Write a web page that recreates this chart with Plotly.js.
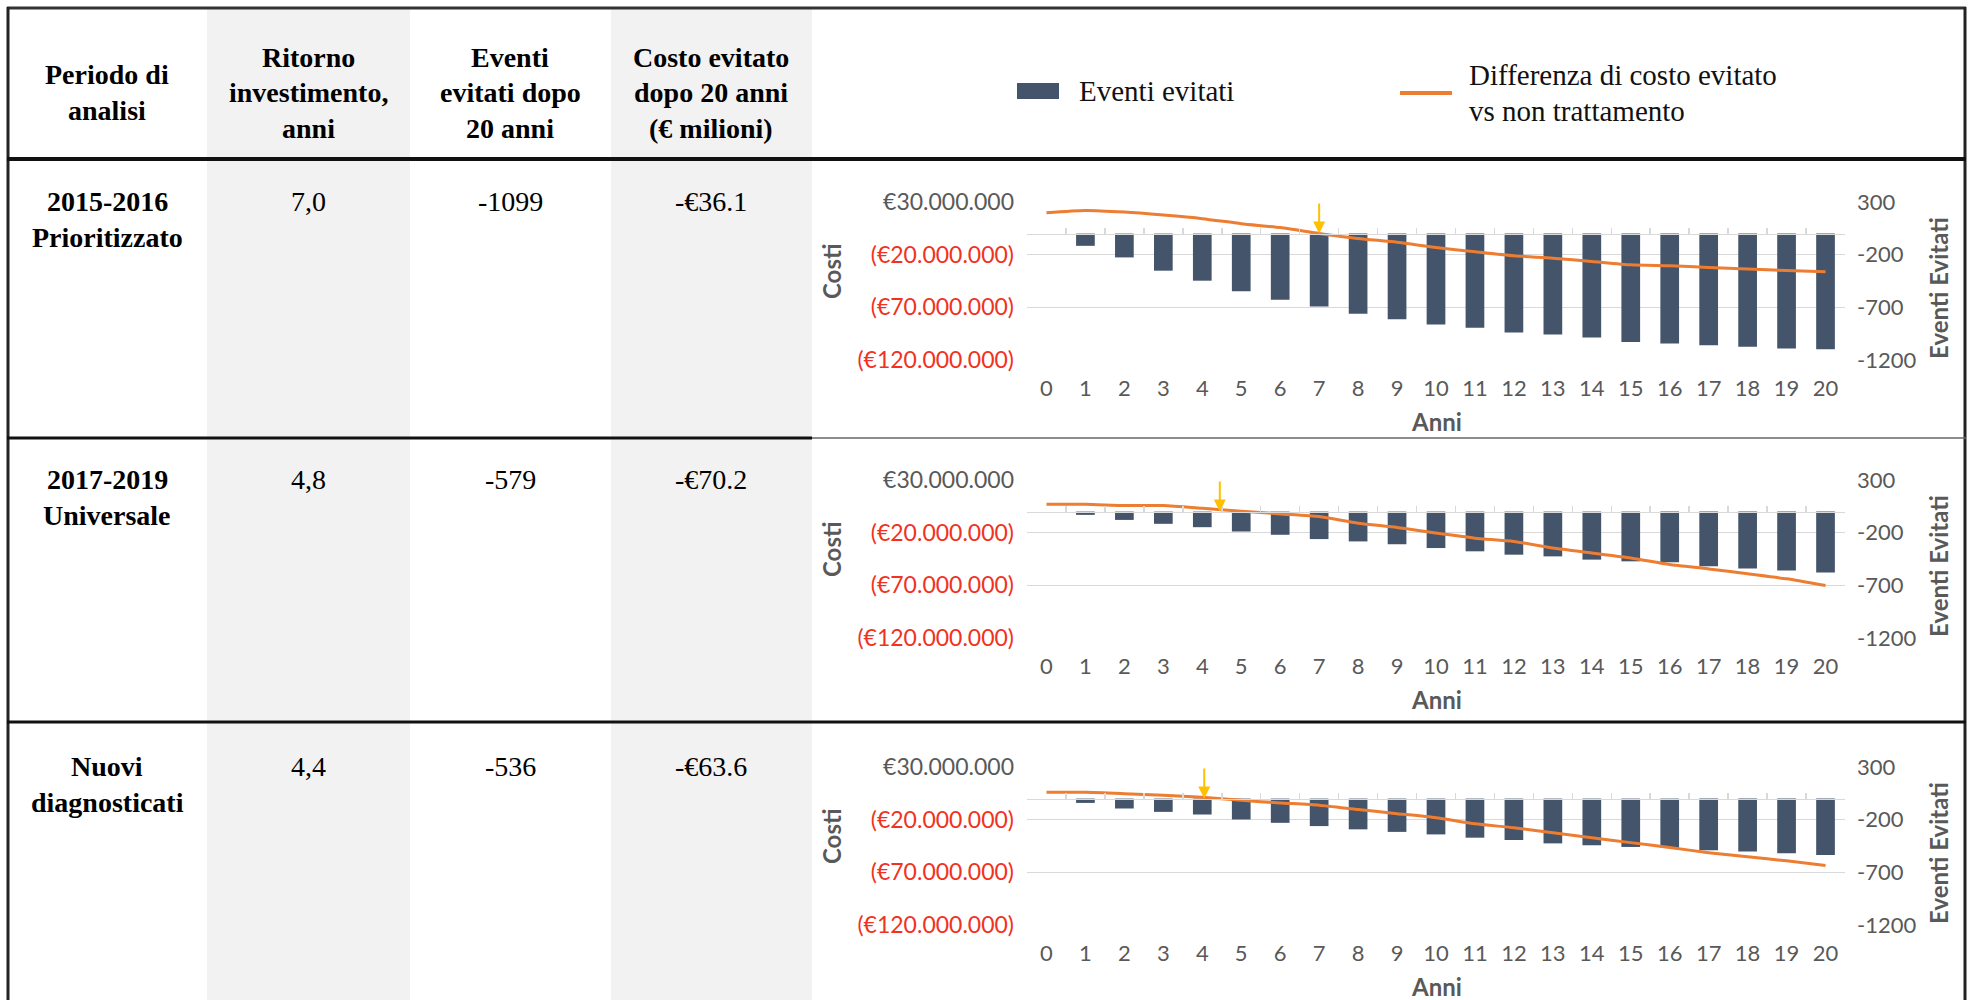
<!DOCTYPE html>
<html>
<head>
<meta charset="utf-8">
<script src="https://cdn.plot.ly/plotly-3.0.1.min.js"></script>
<style>
html,body{margin:0;padding:0;background:#ffffff;}
#chart{width:1968px;height:1000px;}
</style>
</head>
<body>
<div id="chart"></div>
<script>
// ---------------- DATA ----------------
const years = [0,1,2,3,4,5,6,7,8,9,10,11,12,13,14,15,16,17,18,19,20];

// Eventi evitati (right axis)
const eventiPrioritizzato = [0,-116,-226,-352,-447,-547,-629,-692,-761,-814,-862,-893,-940,-959,-987,-1028,-1044,-1060,-1075,-1092,-1099];
const eventiUniversale    = [0,-31,-79,-116,-148,-189,-220,-261,-283,-310,-346,-377,-409,-425,-456,-472,-481,-519,-541,-560,-579];
const eventiNuovi         = [0,-41,-94,-126,-151,-198,-230,-261,-292,-316,-340,-371,-393,-425,-443,-459,-465,-491,-503,-519,-536];

// Differenza di costo evitato vs non trattamento (left axis, €)
const costoPrioritizzato = [19.8e6,22.0e6,20.4e6,17.6e6,14.2e6,9.4e6,5.7e6,0.2e6,-4.7e6,-8.2e6,-13.2e6,-17.3e6,-21.1e6,-23.3e6,-26.4e6,-29.6e6,-30.5e6,-32.1e6,-33.6e6,-35.0e6,-36.1e6];
const costoUniversale    = [6.9e6,6.9e6,5.7e6,5.7e6,3.1e6,0.3e6,-2.2e6,-4.7e6,-11.0e6,-15.0e6,-20.4e6,-25.2e6,-28.3e6,-34.6e6,-39.3e6,-44.0e6,-50.3e6,-54.4e6,-59.1e6,-63.8e6,-70.2e6];
const costoNuovi         = [6.0e6,6.0e6,4.7e6,3.1e6,1.3e6,-1.6e6,-4.1e6,-6.3e6,-10.4e6,-14.3e6,-18.2e6,-23.9e6,-27.7e6,-32.4e6,-37.1e6,-41.8e6,-46.5e6,-51.3e6,-55.3e6,-59.1e6,-63.6e6];

// Arrow (ritorno investimento) position on the year axis, as drawn
const arrowYear = [7.0, 4.45, 4.05];

// Table
const headerLines = [
  ['Periodo di','analisi'],
  ['Ritorno','investimento,','anni'],
  ['Eventi','evitati dopo','20 anni'],
  ['Costo evitato','dopo 20 anni','(€ milioni)']
];
const periodoLines = [['2015-2016','Prioritizzato'],['2017-2019','Universale'],['Nuovi','diagnosticati']];
const ritorno = ['7,0','4,8','4,4'];
const eventiDopo20 = ['-1099','-579','-536'];
const costoDopo20 = ['-€36.1','-€70.2','-€63.6'];

// Axis ticks
const leftTickVals = [3e7,-2e7,-7e7,-1.2e8];
const leftTickText = ['€30.000.000','(€20.000.000)','(€70.000.000)','(€120.000.000)'];
const leftTickRed  = [false,true,true,true];
const rightTickVals = [300,-200,-700,-1200];
const rightTickText = ['300','-200','-700','-1200'];

const legendBarLabel = 'Eventi evitati';
const legendLineLines = ['Differenza di costo evitato','vs non trattamento'];
const xTitle = 'Anni', yLeftTitle = 'Costi', yRightTitle = 'Eventi Evitati';

// ---------------- LAYOUT HELPERS ----------------
const W = 1968, H = 1000;
const px = x => x / W;
const py = y => 1 - y / H;

const BAR = '#44546a', ORANGE = '#ed7d31', GOLD = '#ffc000', GRID = '#d9d9d9', AX = '#595959', RED = '#f0321e';
const serif = 'Liberation Serif, Times New Roman, serif';
const sans = 'Lato, Open Sans, sans-serif';
const TABLE_SIZE = 28, LEGEND_SIZE = 29, TICK_SIZE = 22, LEFT_TICK_SIZE = 23, TITLE_SIZE = 24;

const eventiSeries = [eventiPrioritizzato, eventiUniversale, eventiNuovi];
const costoSeries = [costoPrioritizzato, costoUniversale, costoNuovi];

const rowTop = [202, 480, 767];   // top gridline pixel of each chart
const plotH = 158;
const plotL = 1027, plotR = 1845;

const leftText = leftTickText.map((t,i) => leftTickRed[i] ? '<span style="color:' + RED + '">' + t + '</span>' : t);

const data = [];
const layout = {
  width: W, height: H,
  margin: {l:0, r:0, t:0, b:0},
  paper_bgcolor: '#ffffff',
  plot_bgcolor: 'rgba(0,0,0,0)',
  showlegend: false,
  font: {family: sans, color: AX, size: TICK_SIZE},
  shapes: [],
  annotations: []
};

function txt(text, x, y, opt) {
  opt = opt || {};
  layout.annotations.push(Object.assign({
    text: text, x: px(x), y: py(y), xref: 'paper', yref: 'paper',
    showarrow: false, xanchor: 'center', yanchor: 'middle',
    font: {family: serif, size: TABLE_SIZE, color: '#000'}
  }, opt));
}

// grey columns
[[207,410],[611,812]].forEach(c => layout.shapes.push({
  type:'rect', xref:'paper', yref:'paper', x0:px(c[0]), x1:px(c[1]), y0:py(1000), y1:py(9),
  fillcolor:'#f2f2f2', line:{width:0}, layer:'below'
}));
// borders
function hline(x0,x1,y,w,c){ layout.shapes.push({type:'line', xref:'paper', yref:'paper', x0:px(x0), x1:px(x1), y0:py(y), y1:py(y), line:{color:c, width:w}}); }
function vline(x,y0,y1,w,c){ layout.shapes.push({type:'line', xref:'paper', yref:'paper', x0:px(x), x1:px(x), y0:py(y0), y1:py(y1), line:{color:c, width:w}}); }
hline(7, 1966, 8, 3, '#333');
vline(8, 7, 1000, 3, '#222');
vline(1965, 7, 1000, 3, '#222');
hline(7, 1966, 159, 4, '#111');
hline(7, 812, 438, 3, '#111');
hline(812, 1966, 438, 1.5, '#666');
hline(7, 1966, 722, 3, '#111');

// header text
const colCenter = [107, 308, 510, 711];
headerLines.forEach((lines, c) => {
  const ys = lines.length === 3 ? [57, 93, 128] : [75, 111];
  lines.forEach((l, k) => txt('<b>' + l + '</b>', colCenter[c], ys[k]));
});

// legend
layout.shapes.push({type:'rect', xref:'paper', yref:'paper', x0:px(1017), x1:px(1059), y0:py(99), y1:py(83), fillcolor:BAR, line:{width:0}});
txt(legendBarLabel, 1077, 91, {xanchor:'left', font:{family: serif, size: LEGEND_SIZE, color:'#111'}});
hline(1400, 1452, 93, 4, ORANGE);
txt(legendLineLines[0], 1467, 75, {xanchor:'left', font:{family: serif, size: LEGEND_SIZE, color:'#111'}});
txt(legendLineLines[1], 1467, 111, {xanchor:'left', font:{family: serif, size: LEGEND_SIZE, color:'#111'}});

// rows
for (let i = 0; i < 3; i++) {
  const G = rowTop[i];
  const n = i + 1;
  const xa = 'x' + (n === 1 ? '' : n);
  const xZero = 'x' + (n + 3);
  const yMain = 'y' + (2*i + 1 === 1 ? '' : 2*i + 1);
  const yCost = 'y' + (2*i + 2);
  const dom = [py(G + plotH), py(G)];

  // table row text
  const rowTextY = [G - 1, G + 35];
  periodoLines[i].forEach((l,k) => txt('<b>' + l + '</b>', colCenter[0], rowTextY[k]));
  txt(ritorno[i], colCenter[1], G - 1);
  txt(eventiDopo20[i], colCenter[2], G - 1);
  txt(costoDopo20[i], colCenter[3], G - 1);

  data.push({
    type:'bar', x: years, y: eventiSeries[i], xaxis: xa, yaxis: yMain,
    marker:{color: BAR}, width: 0.48, hoverinfo:'skip', name: legendBarLabel
  });
  data.push({
    type:'scatter', mode:'lines', x: years, y: costoSeries[i], xaxis: xa, yaxis: yCost,
    line:{color: ORANGE, width: 3, shape:'spline', smoothing: 0.6}, hoverinfo:'skip',
    name: legendLineLines.join(' ')
  });
  data.push({
    type:'scatter', mode:'lines', x: years, y: years.map(() => null), xaxis: xZero, yaxis: yMain,
    hoverinfo:'skip', showlegend:false
  });

  const xKey = 'xaxis' + (n === 1 ? '' : n);
  layout[xKey] = {
    domain: [px(plotL), px(plotR)], anchor: yMain, range: [-0.5, 20.5],
    tickmode:'array', tickvals: years, ticktext: years.map(String),
    showgrid:false, zeroline:false, showline:false, ticks:'',
    ticklabelstandoff: 13, tickfont:{family: sans, size: TICK_SIZE, color: AX}, fixedrange:true
  };
  layout['xaxis' + (n + 3)] = {
    overlaying: xa, anchor:'free', position: py(G + plotH * 0.2), range:[-0.5, 20.5],
    tickmode:'linear', tick0:-0.5, dtick:1, ticks:'inside', ticklen:6, tickwidth:1.5, tickcolor: GRID,
    showline:true, linecolor: GRID, linewidth:1.5, showticklabels:false, showgrid:false, zeroline:false
  };
  layout['yaxis' + (2*i + 1 === 1 ? '' : 2*i + 1)] = {
    domain: dom, anchor: xa, side:'right', range:[-1200, 300],
    tickmode:'array', tickvals: rightTickVals, ticktext: rightTickText,
    showgrid:true, gridcolor: GRID, gridwidth:1.5, zeroline:false, showline:false, ticks:'',
    ticklabelstandoff: 11, tickfont:{family: sans, size: TICK_SIZE, color: AX}
  };
  layout['yaxis' + (2*i + 2)] = {
    overlaying: yMain, anchor: xa, side:'left', range:[-1.2e8, 3e7],
    tickmode:'array', tickvals: leftTickVals, ticktext: leftText,
    showgrid:false, zeroline:false, showline:false, ticks:'',
    ticklabelstandoff: 12, tickfont:{family: sans, size: LEFT_TICK_SIZE, color: AX}
  };

  // arrow marking the payback year
  layout.annotations.push({
    xref: xa, yref: yCost, axref: xa, ayref: yCost,
    x: arrowYear[i], y: 0, ax: arrowYear[i], ay: 3e7,
    text:'', showarrow:true, arrowcolor: GOLD, arrowwidth: 2, arrowhead: 2, arrowsize: 1.2, standoff: 0
  });

  // axis titles
  txt('<b>' + xTitle + '</b>', (plotL + plotR) / 2, G + 219, {font:{family: sans, size: TITLE_SIZE, color: AX}});
  txt('<b>' + yLeftTitle + '</b>', 831, G + 70, {textangle:-90, font:{family: sans, size: TITLE_SIZE, color: AX}});
  txt('<b>' + yRightTitle + '</b>', 1938, G + 86, {textangle:-90, font:{family: sans, size: TITLE_SIZE, color: AX}});
}

Plotly.newPlot('chart', data, layout, {staticPlot:true, displayModeBar:false});
</script>
</body>
</html>
